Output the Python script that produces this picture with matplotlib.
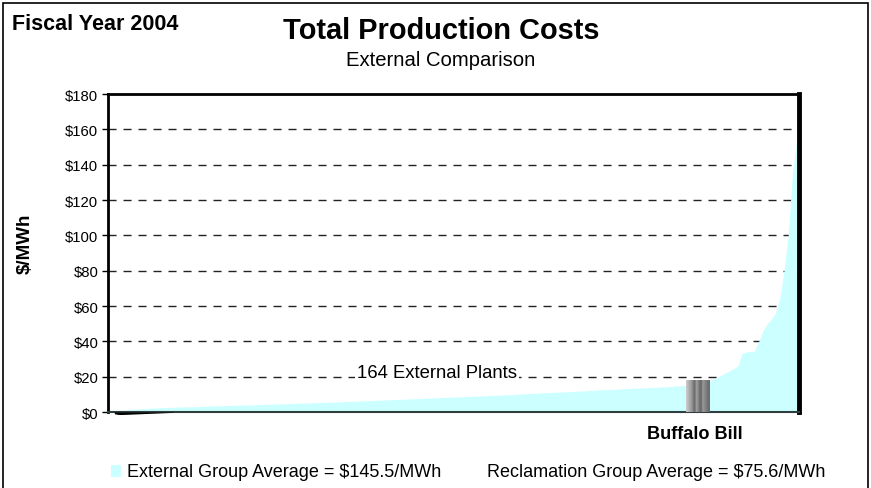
import numpy as np
import matplotlib
matplotlib.use("Agg")
import matplotlib.pyplot as plt
from matplotlib.patches import Rectangle

plt.rcParams['font.family'] = ['Liberation Sans', 'DejaVu Sans']

# sorted production cost of the 164 external plants ($/MWh)
external_costs = [
    0.4, 0.6, 0.8, 1.0, 1.2, 1.4, 1.6, 1.8, 2.0, 2.1,
    2.2, 2.3, 2.4, 2.5, 2.6, 2.7, 2.8, 2.9, 2.9, 3.0,
    3.0, 3.1, 3.2, 3.3, 3.4, 3.5, 3.5, 3.6, 3.7, 3.8,
    3.8, 3.9, 4.0, 4.0, 4.1, 4.2, 4.3, 4.3, 4.4, 4.5,
    4.6, 4.6, 4.7, 4.8, 4.9, 5.0, 5.0, 5.1, 5.2, 5.3,
    5.4, 5.5, 5.5, 5.6, 5.7, 5.8, 5.9, 6.0, 6.1, 6.2,
    6.3, 6.4, 6.5, 6.6, 6.7, 6.8, 6.9, 7.0, 7.1, 7.2,
    7.3, 7.4, 7.5, 7.6, 7.7, 7.8, 7.9, 8.0, 8.1, 8.2,
    8.3, 8.4, 8.5, 8.6, 8.7, 8.8, 8.9, 9.0, 9.1, 9.2,
    9.3, 9.4, 9.5, 9.6, 9.7, 9.8, 9.9, 10.1, 10.3, 10.4,
    10.5, 10.6, 10.8, 10.9, 11.0, 11.1, 11.2, 11.3, 11.4, 11.5,
    11.6, 11.8, 11.9, 12.0, 12.2, 12.3, 12.5, 12.6, 12.7, 12.8,
    12.9, 13.1, 13.2, 13.3, 13.4, 13.5, 13.6, 13.7, 13.8, 13.9,
    14.0, 14.2, 14.3, 14.5, 14.6, 14.8, 15.0, 15.2, 15.5, 15.9,
    16.4, 17.0, 17.6, 18.5, 19.5, 20.8, 22.0, 23.2, 24.5, 26.0,
    33.0, 34.0, 34.2, 34.5, 40.0, 46.0, 50.0, 52.5, 56.0, 64.0,
    80.0, 100.0, 135.0, 153.0,
]
# small negative values at the low end (drawn black under the axis)
negative_costs = [-1.0, -1.4, -1.4, -1.3, -1.2, -1.1, -1.0, -0.9, -0.8, -0.7,
                  -0.6, -0.5, -0.4, -0.3, -0.2]

buffalo_bill_pos = 139.5
buffalo_bill_cost = 17.7

y_ticks = [0, 20, 40, 60, 80, 100, 120, 140, 160, 180]
y_tick_labels = ['$%d' % v for v in y_ticks]

fig = plt.figure(figsize=(8.71, 4.89), dpi=100)
ax = fig.add_axes([0.124, 0.1554, 0.793, 0.6503])

x = np.arange(len(external_costs))

# dashed grid
for v in y_ticks[1:-1]:
    ax.axhline(v, color='#222222', lw=1.0, ls=(0, (5.8, 5)), zorder=1)

ax.fill_between(x, 0, external_costs, color='#ccffff', lw=0, zorder=2)
neg = ax.fill_between(np.arange(1, len(negative_costs) + 1), 0, negative_costs,
                      color='black', lw=0, zorder=3)
neg.set_clip_on(False)

# Buffalo Bill bar with gray shading
w = 5.5
shade = np.array([[0.78, 0.72, 0.66, 0.6, 0.5, 0.42, 0.62, 0.55, 0.45, 0.4,
                   0.6, 0.55, 0.5, 0.45, 0.42]])
ax.imshow(shade, cmap='gray', vmin=0, vmax=1, aspect='auto',
          extent=[buffalo_bill_pos - w / 2, buffalo_bill_pos + w / 2, 0, buffalo_bill_cost],
          zorder=4, interpolation='bilinear')

ax.set_xlim(-0.5, 163.5)
ax.set_ylim(0, 180)
ax.set_yticks(y_ticks)
ax.set_yticklabels(y_tick_labels, fontsize=10.7)
ax.set_xticks([])
ax.tick_params(axis='y', direction='out', length=4, width=1, pad=3)

for s in ['left', 'top']:
    ax.spines[s].set_linewidth(2)
    ax.spines[s].set_color('black')
ax.spines['right'].set_linewidth(3.5)
ax.spines['right'].set_color('black')
ax.spines['bottom'].set_linewidth(1.5)
ax.spines['bottom'].set_color('#2f3f3f')

ax.text(77.6, 22.5, '164 External Plants', fontsize=13.3, ha='center', va='center',
        bbox=dict(facecolor='white', edgecolor='none', pad=1.5), zorder=5)

fig.text(0.029, 0.501, '$/MWh', fontsize=13.5, fontweight='bold', rotation=90,
         ha='center', va='center')

fig.text(0.507, 0.937, 'Total Production Costs', fontsize=20.9, fontweight='bold',
         ha='center', va='center')
fig.text(0.5065, 0.876, 'External Comparison', fontsize=14.6, ha='center', va='center')
fig.text(0.0138, 0.949, 'Fiscal Year 2004', fontsize=15.5, fontweight='bold',
         ha='left', va='center')
fig.text(0.798, 0.1115, 'Buffalo Bill', fontsize=13.1, fontweight='bold',
         ha='center', va='center')

# legend line
fig.patches.append(Rectangle((0.1275, 0.022), 0.011, 0.025, transform=fig.transFigure,
                             facecolor='#ccffff', edgecolor='none'))
fig.text(0.1458, 0.034, 'External Group Average = $145.5/MWh', fontsize=13,
         ha='left', va='center')
fig.text(0.559, 0.034, 'Reclamation Group Average = $75.6/MWh', fontsize=13,
         ha='left', va='center')

# outer frame (open at bottom)
fig.patches.append(Rectangle((0.0035, -0.05), 0.9930, 1.042, transform=fig.transFigure,
                             facecolor='none', edgecolor='black', lw=1.2))

fig.savefig('out.png', dpi=100)
